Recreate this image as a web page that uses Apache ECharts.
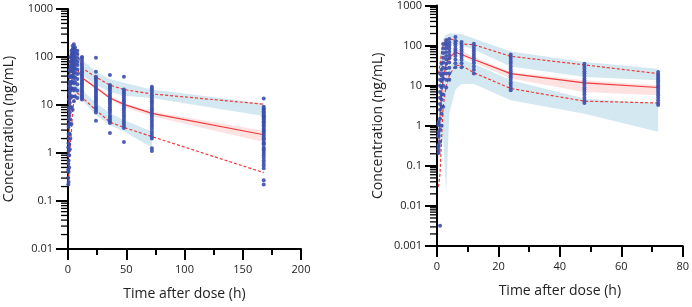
<!DOCTYPE html>
<html>
<head>
<meta charset="utf-8">
<script src="https://cdn.jsdelivr.net/npm/echarts@6/dist/echarts.min.js"></script>
<style>
  html, body { margin: 0; padding: 0; background: #fff; }
  #chart { width: 692px; height: 307px; }
</style>
</head>
<body>
<div id="chart"></div>
<script>
// ---------- left panel (0-168 h) ----------
// observed concentrations, grouped by sampling time
const leftTimes = [0.25, 0.5, 1, 1.5, 2, 3, 4, 5, 6, 8, 12, 24, 36, 48, 72, 168];
const leftConc = [
  [0.22, 0.3, 0.45, 0.6, 0.9, 1.3, 2],
  [0.25, 0.4, 0.7, 1.1, 1.6, 2.5, 3.5, 5, 8],
  [0.5, 0.9, 1.5, 2.5, 4, 6, 9, 13, 18, 25],
  [1.2, 2.5, 4, 7, 11, 16, 22, 30, 40, 55],
  [2, 5, 9, 14, 20, 28, 38, 50, 65, 80, 100],
  [4, 9, 15, 22, 30, 40, 52, 65, 80, 95, 115, 135],
  [8, 15, 22, 30, 40, 50, 60, 72, 85, 100, 120, 145, 170],
  [12, 20, 28, 36, 45, 55, 65, 78, 90, 105, 125, 150, 185],
  [15, 22, 30, 38, 48, 58, 70, 85, 100, 120, 140, 160],
  [14, 20, 27, 35, 44, 55, 68, 80, 95, 115, 135],
  [100, 95, 85, 75, 68, 62, 57, 52, 48, 44, 41, 38, 35, 32, 30, 28, 26, 24, 22, 20, 19, 17.5, 16, 15, 14, 13],
  [97, 49, 39, 36, 33, 30, 27.5, 25, 23, 21, 19.5, 18, 16.5, 15, 14, 13, 12, 11, 10, 9, 8.5, 7.8, 7, 4.7],
  [42, 26, 24, 22, 20, 18, 16.5, 15, 14, 13, 12, 11, 10, 9, 8.2, 7.5, 6.8, 6, 5.5, 5, 4.6, 4.2, 2.6],
  [39, 21, 19, 17.5, 16, 14.5, 13, 12, 11, 10, 9.2, 8.5, 7.8, 7, 6.3, 5.7, 5.1, 4.6, 4.1, 3.7, 3.3, 1.7],
  [24, 22, 20, 18, 16, 14.5, 13, 12, 11, 10, 9, 8.2, 7.5, 6.8, 6.2, 5.6, 5, 4.5, 4, 3.6, 3.2, 2.8, 2.5, 2.2, 2.0, 1.25, 1.1],
  [13.7, 9.2, 8.5, 8, 7.4, 7, 6.5, 6.1, 5.8, 5.5, 5.2, 4.9, 4.6, 4.3, 4, 3.8, 3.5, 3.2, 3, 2.8, 2.6, 2.4, 2.2, 2, 1.9, 1.7, 1.6, 1.5, 1.3, 1.2, 1.1, 1.0, 0.9, 0.8, 0.7, 0.62, 0.55, 0.48, 0.27, 0.22]
];
// observed percentiles
const leftPctTimes = [0.5, 1, 2, 3, 4, 6, 8, 12, 24, 36, 48, 72, 168];
const leftP95 = [5, 25, 90, 140, 160, 150, 120, 59, 38, 26, 21, 17, 10.4];
const leftP50 = [0.8, 3, 12, 30, 50, 60, 55, 37, 23, 14, 10.3, 6.7, 2.4];
const leftP05 = [0.25, 0.6, 1.5, 3, 8, 16, 18, 14.5, 7.8, 4.4, 3.4, 2.2, 0.39];
// simulated prediction intervals
const leftHiBandT = [6, 8, 12, 24, 36, 48, 72, 168];
const leftHiBandLo = [75, 65, 42, 26, 18.7, 15.6, 14, 5.9];
const leftHiBandHi = [140, 120, 87, 50, 35, 29, 21, 10.8];
const leftMidBandT = [8, 12, 24, 36, 48, 72, 168];
const leftMidBandLo = [48, 34, 21, 13, 9, 5.8, 1.7];
const leftMidBandHi = [58, 40, 25, 15.5, 11, 7.3, 2.9];
const leftLoBandT = [6, 8, 12, 24, 36, 48, 72];
const leftLoBandLo = [14, 14, 12.7, 6.2, 3.8, 2.8, 1.3];
const leftLoBandHi = [26, 25, 20.6, 11, 6.7, 4.8, 2.8];

// ---------- right panel (0-72 h) ----------
const rightTimes = [0.5, 1, 1.5, 2, 3, 4, 6, 8, 12, 24, 48, 72];
const rightConc = [
  [1.25, 1.13, 1.03, 0.7, 0.58, 0.53, 0.33, 0.3, 0.25, 0.21],
  [0.0032, 0.4, 0.8, 1.5, 2.5, 3.5, 5, 7, 10, 14, 20],
  [1, 2, 3, 4.5, 6, 9, 13, 18, 25, 35],
  [3, 6, 10, 15, 20, 28, 38, 50, 65, 85, 110],
  [9, 14, 20, 27, 35, 45, 55, 68, 85, 100, 115, 135],
  [14, 20, 28, 38, 48, 58, 70, 85, 100, 120, 145],
  [29, 36, 45, 55, 65, 75, 85, 100, 115, 130, 163],
  [29, 36, 44, 52, 60, 70, 80, 92, 105, 122],
  [20, 25, 30, 36, 42, 48, 55, 63, 72, 82, 95, 111],
  [7.7, 9, 10.5, 12, 14, 16, 18, 20, 23, 26, 30, 35, 40, 46, 53, 60],
  [3.7, 4.2, 5, 6, 7, 8, 9, 10.5, 12, 13.5, 15, 17.5, 20, 23, 27, 31, 35],
  [3.3, 3.7, 4.3, 5, 5.8, 6.6, 7.5, 8.5, 9.5, 10.5, 12, 13.5, 15, 17, 19, 22]
];
const rightPctTimes = [0.5, 1, 1.5, 2, 3, 4, 6, 8, 12, 24, 48, 72];
const rightP95 = [20, 36, 70, 100, 145, 145, 140, 110, 105, 54, 33, 20];
const rightP50 = [0.2, 2, 6, 15, 35, 50, 68, 60, 45, 20, 11.7, 9];
const rightP05 = [0.03, 0.066, 0.5, 3, 10, 18, 32, 32, 21, 8.5, 4.1, 3.7];
const rightHiBandT = [1, 2, 3, 4, 6, 8, 12, 24, 48, 72];
const rightHiBandLo = [5, 40, 80, 100, 110, 100, 80, 30, 16.4, 13.6];
const rightHiBandHi = [60, 150, 190, 200, 200, 195, 150, 71, 39, 26.6];
const rightMidBandT = [2, 3, 4, 6, 8, 12, 24, 48, 72];
const rightMidBandLo = [8, 25, 40, 55, 55, 38, 15, 7, 5.8];
const rightMidBandHi = [20, 45, 60, 80, 75, 52, 22, 13.6, 10.2];
const rightLoBandT = [1, 2, 3, 4, 6, 8, 12, 24, 48, 72];
const rightLoBandLo = [0.2, 0.5, 0.023, 2, 8, 11, 11, 4.3, 2.0, 0.71];
const rightLoBandHi = [1, 8, 20, 30, 45, 45, 35, 13.6, 4.8, 3.6];

// log-axis minor ticks: 2..9 within each decade
const minorMultipliers = [2, 3, 4, 5, 6, 7, 8, 9];
const leftDecades = [0.01, 0.1, 1, 10, 100];
const rightDecades = [0.001, 0.01, 0.1, 1, 10, 100];

const FONT = 'Open Sans';
const RED = '#f23a3a';
const DOT = '#3b4fae';
const BAND_BLUE = '#d3e8f0';
const BAND_PINK = '#fde2e2';
const TICK = '#000';

function pairs(times, values) {
  return times.map((t, i) => [t, values[i]]);
}

function points(times, groups) {
  const out = [];
  times.forEach((t, i) => groups[i].forEach(c => out.push([t, c])));
  return out;
}

function minorValues(decades) {
  const out = [];
  decades.forEach(d => minorMultipliers.forEach(m => out.push(+(d * m).toPrecision(3))));
  return out;
}

// filled band between lo and hi, drawn as one polygon through the axis scales
function band(idx, t, lo, hi, color) {
  return {
    type: 'custom',
    xAxisIndex: idx,
    yAxisIndex: idx,
    silent: true,
    z: 1,
    data: t.map((v, i) => [v, lo[i], hi[i]]),
    encode: { x: 0, y: [1, 2] },
    renderItem: function (params, api) {
      if (params.dataIndex !== 0) return null;
      const pts = [];
      for (let i = 0; i < t.length; i++) pts.push(api.coord([t[i], hi[i]]));
      for (let i = t.length - 1; i >= 0; i--) pts.push(api.coord([t[i], lo[i]]));
      return { type: 'polygon', shape: { points: pts }, style: { fill: color } };
    }
  };
}

// short outward ticks on the y axis for the log minor values
function minorTicks(idx, decades) {
  return {
    type: 'custom',
    xAxisIndex: idx,
    yAxisIndex: idx,
    silent: true,
    clip: false,
    z: 5,
    data: minorValues(decades).map(v => [0, v]),
    encode: { x: 0, y: 1 },
    renderItem: function (params, api) {
      const p = api.coord([0, api.value(1)]);
      return {
        type: 'line',
        shape: { x1: p[0] - 7, y1: p[1], x2: p[0] - 1, y2: p[1] },
        style: { stroke: TICK, lineWidth: 1.3 }
      };
    }
  };
}

function line(idx, t, v, dashed) {
  return {
    type: 'line',
    xAxisIndex: idx,
    yAxisIndex: idx,
    data: pairs(t, v),
    showSymbol: false,
    z: 3,
    lineStyle: { color: RED, width: 1.2, type: dashed ? [3, 2] : 'solid' }
  };
}

function xAxis(idx, max, interval, minor) {
  return {
    type: 'value', gridIndex: idx, min: 0, max: max, interval: interval,
    name: 'Time after dose (h)', nameLocation: 'middle', nameGap: 38,
    nameTextStyle: { fontFamily: FONT, fontSize: 14, color: '#222' },
    axisLine: { show: true, onZero: false, lineStyle: { color: '#000', width: 2 } },
    axisTick: { show: true, length: 11, lineStyle: { color: TICK, width: 2 } },
    minorTick: { show: true, splitNumber: minor, length: 6, lineStyle: { color: TICK, width: 2 } },
    axisLabel: { fontFamily: FONT, fontSize: 11, color: '#222', margin: 15 },
    splitLine: { show: false }
  };
}

function yAxis(idx, min) {
  return {
    type: 'log', logBase: 10, gridIndex: idx, min: min, max: 1000,
    name: 'Concentration (ng/mL)', nameLocation: 'middle', nameGap: 52,
    nameTextStyle: { fontFamily: FONT, fontSize: 14, color: '#222' },
    axisLine: { show: true, onZero: false, lineStyle: { color: '#000', width: 2 } },
    axisTick: { show: true, length: 12, lineStyle: { color: TICK, width: 2 } },
    axisLabel: {
      fontFamily: FONT, fontSize: 11, color: '#222', margin: 15,
      formatter: v => String(+Number(v).toPrecision(3))
    },
    splitLine: { show: false }
  };
}

function scatter(idx, data) {
  return {
    type: 'scatter', xAxisIndex: idx, yAxisIndex: idx, data: data,
    symbolSize: 4, z: 4,
    itemStyle: { color: DOT, opacity: 0.9 }
  };
}

const chart = echarts.init(document.getElementById('chart'), null, { renderer: 'canvas' });
chart.setOption({
  animation: false,
  backgroundColor: '#fff',
  grid: [
    { left: 68, top: 9, width: 233, height: 240 },
    { left: 437, top: 5, width: 247, height: 241 }
  ],
  xAxis: [xAxis(0, 200, 50, 2), xAxis(1, 80, 20, 2)],
  yAxis: [yAxis(0, 0.01), yAxis(1, 0.001)],
  series: [
    band(0, leftHiBandT, leftHiBandLo, leftHiBandHi, BAND_BLUE),
    band(0, leftLoBandT, leftLoBandLo, leftLoBandHi, BAND_BLUE),
    band(0, leftMidBandT, leftMidBandLo, leftMidBandHi, BAND_PINK),
    line(0, leftPctTimes, leftP95, true),
    line(0, leftPctTimes, leftP50, false),
    line(0, leftPctTimes, leftP05, true),
    scatter(0, points(leftTimes, leftConc)),
    minorTicks(0, leftDecades),

    band(1, rightHiBandT, rightHiBandLo, rightHiBandHi, BAND_BLUE),
    band(1, rightLoBandT, rightLoBandLo, rightLoBandHi, BAND_BLUE),
    band(1, rightMidBandT, rightMidBandLo, rightMidBandHi, BAND_PINK),
    line(1, rightPctTimes, rightP95, true),
    line(1, rightPctTimes, rightP50, false),
    line(1, rightPctTimes, rightP05, true),
    scatter(1, points(rightTimes, rightConc)),
    minorTicks(1, rightDecades)
  ]
});
</script>
</body>
</html>
